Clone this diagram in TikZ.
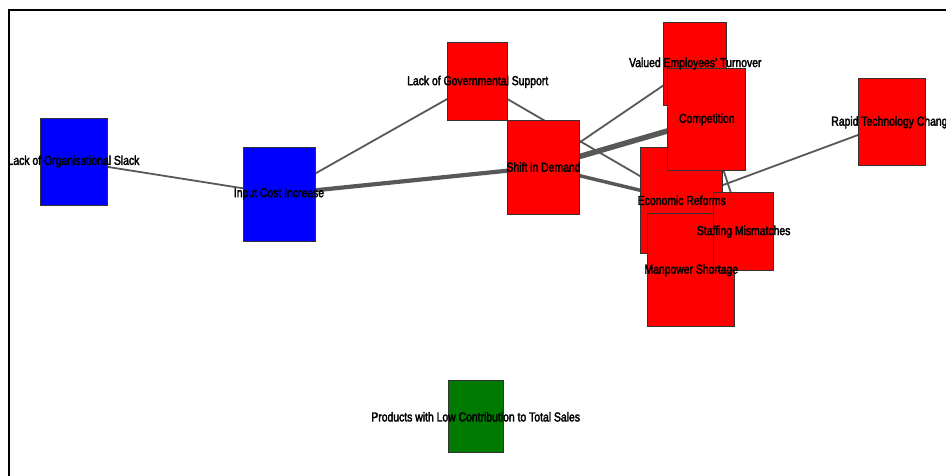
\documentclass[tikz,border=0pt]{standalone}
\usepackage{fontspec}
\setmainfont{Liberation Sans}[FakeStretch=0.8, FakeBold=2.5]
\pgfdeclarelayer{bg}
\pgfdeclarelayer{edges}
\pgfdeclarelayer{labels}
\pgfsetlayers{bg,edges,main,labels}
\definecolor{edgegray}{RGB}{88,88,88}
\definecolor{boxblue}{RGB}{0,0,255}
\definecolor{boxred}{RGB}{255,0,0}
\definecolor{boxgreen}{RGB}{0,122,0}
\tikzset{
  box/.style={draw=black!80, line width=0.9pt, inner sep=0pt, anchor=center},
  bluebox/.style={box, fill=boxblue},
  redbox/.style={box, fill=boxred},
  greenbox/.style={box, fill=boxgreen},
  lbl/.style={inner sep=0pt, anchor=center, text=black,
    font=\fontsize{13}{15}\selectfont},
  link/.style={draw=edgegray, line width=1.8pt},
  linkmid/.style={draw=edgegray, line width=3.5pt},
  linkwide/.style={draw=edgegray, line width=4.2pt},
  linkheavy/.style={draw=edgegray, line width=5.5pt},
}
\begin{document}
\begin{tikzpicture}[x=1pt, y=-1pt]
\useasboundingbox (0,0) rectangle (946,476);
\begin{pgfonlayer}{bg}
\fill[white] (0,0) rectangle (946,476);
\end{pgfonlayer}
% factor boxes
\node[bluebox, minimum width=67pt, minimum height=87pt] (los) at (73.5,161.5) {};
\node[bluebox, minimum width=72pt, minimum height=94pt] (ici) at (279,194) {};
\node[redbox, minimum width=60pt, minimum height=78pt] (lgs) at (477.7,81.8) {};
\node[redbox, minimum width=72pt, minimum height=94pt] (sid) at (543.5,167) {};
\node[redbox, minimum width=63pt, minimum height=83pt] (vet) at (695.3,63.7) {};
\node[redbox, minimum width=82pt, minimum height=106pt] (er) at (681.8,200.3) {};
\node[redbox, minimum width=78pt, minimum height=102pt] (comp) at (706.8,119.5) {};
\node[redbox, minimum width=87pt, minimum height=113pt] (mps) at (691.3,270.3) {};
\node[redbox, minimum width=60pt, minimum height=78pt] (sm) at (743.7,231.7) {};
\node[redbox, minimum width=67pt, minimum height=87pt] (rtc) at (892.3,122.3) {};
\node[greenbox, minimum width=55pt, minimum height=72pt] (pls) at (475.7,416.8) {};
% links between factors, kept under the boxes
\begin{pgfonlayer}{edges}
\draw[link] (los.center) -- (ici.center);
\draw[link] (ici.center) -- (lgs.center);
\draw[linkwide] (ici.center) -- (sid.center);
\draw[link] (lgs.center) -- (er.center);
\draw[link] (sid.center) -- (vet.center);
\draw[linkheavy] (sid.center) -- (comp.center);
\draw[linkmid] (sid.center) -- (er.center);
\draw[link] (comp.center) -- (sm.center);
\draw[link] (rtc.center) -- (er.center);
\end{pgfonlayer}
% factor names, on top of every box
\begin{pgfonlayer}{labels}
\node[lbl] (los-l) at (los.center) {Lack of Organisational Slack};
\node[lbl] (ici-l) at (ici.center) {Input Cost Increase};
\node[lbl] (lgs-l) at (lgs.center) {Lack of Governmental Support};
\node[lbl] (sid-l) at (sid.center) {Shift in Demand};
\node[lbl] (vet-l) at (vet.center) {Valued Employees' Turnover};
\node[lbl] (comp-l) at (comp.center) {Competition};
\node[lbl] (er-l) at (er.center) {Economic Reforms};
\node[lbl] (sm-l) at (sm.center) {Staffing Mismatches};
\node[lbl] (mps-l) at (mps.center) {Manpower Shortage};
\node[lbl] (rtc-l) at (rtc.center) {Rapid Technology Change};
\node[lbl] (pls-l) at (pls.center) {Products with Low Contribution to Total Sales};
\end{pgfonlayer}
% panel frame
\draw[black, line width=2pt] (946,10) -- (9,10) -- (9,476);
\end{tikzpicture}
\end{document}
